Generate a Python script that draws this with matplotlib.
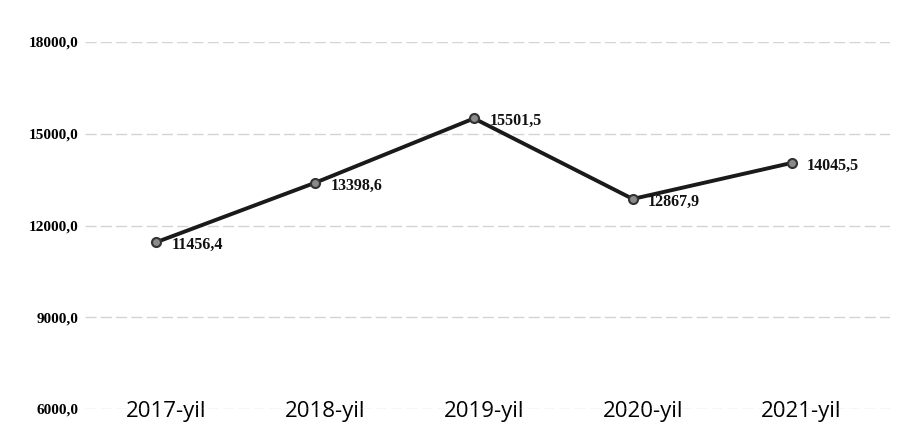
import matplotlib.pyplot as plt
from matplotlib.transforms import ScaledTranslation

# data
years = ['2017-yil', '2018-yil', '2019-yil', '2020-yil', '2021-yil']
values = [11456.4, 13398.6, 15501.5, 12867.9, 14045.5]
yticks = [6000, 9000, 12000, 15000, 18000]

fig = plt.figure(figsize=(8.98, 4.45), dpi=100)
ax = fig.add_axes([85/898, 1 - 409/445, (890-85)/898, (409-42)/445])

x = list(range(len(years)))
ax.plot(x, values, color='#1a1a1a', lw=2.8, marker='o', ms=6.5,
        mfc='#8a8a8a', mec='#333333', mew=1.5, zorder=3)

# value labels, comma decimal like the original
for xi, v in zip(x, values):
    ax.annotate(f'{v:.1f}'.replace('.', ','), (xi, v), xytext=(11, -2),
                textcoords='offset points', ha='left', va='center',
                family='Liberation Serif', fontweight='bold', fontsize=11.5,
                color='#111111')

ax.set_ylim(6000, 18000)
ax.set_xlim(-0.45, 4.62)
ax.set_yticks(yticks)
ax.set_yticklabels([f'{t:.1f}'.replace('.', ',') for t in yticks],
                   family='Liberation Serif', fontweight='bold', fontsize=11)
ax.set_xticks(x)
ax.set_xticklabels(years, fontsize=16, family='Open Sans', fontweight='medium')
ax.tick_params(axis='x', length=0, pad=-6)
ax.tick_params(axis='y', length=0, pad=5)

# year labels sit a little right of the points in the original
shift = ScaledTranslation(10/100, 0, fig.dpi_scale_trans)
for lab in ax.get_xticklabels():
    lab.set_transform(lab.get_transform() + shift)

ax.grid(axis='y', color='#d4d4d4', lw=1, ls=(0, (8, 3)))
for s in ax.spines.values():
    s.set_visible(False)

fig.savefig('out.png', dpi=100)
